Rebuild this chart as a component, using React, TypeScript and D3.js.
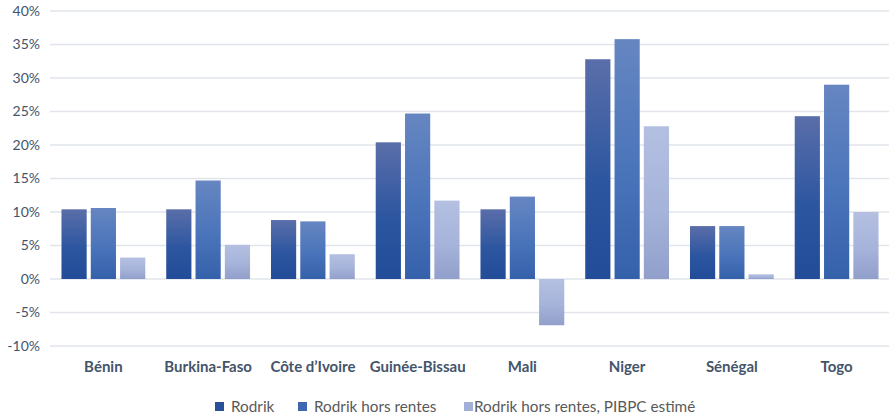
import * as d3 from 'd3';
import React from 'react';

const countries = ['Bénin', 'Burkina-Faso', 'Côte d’Ivoire', 'Guinée-Bissau', 'Mali', 'Niger', 'Sénégal', 'Togo'];
const seriesNames = ['Rodrik', 'Rodrik hors rentes', 'Rodrik hors rentes, PIBPC estimé'];
const rodrik = [10.4, 10.4, 8.8, 20.4, 10.4, 32.8, 7.9, 24.3];
const horsRentes = [10.6, 14.7, 8.6, 24.7, 12.3, 35.8, 7.9, 29.0];
const pibpcEstime = [3.2, 5.1, 3.7, 11.7, -6.9, 22.8, 0.7, 10.0];
const yTicks = [-10, -5, 0, 5, 10, 15, 20, 25, 30, 35, 40];

const gradients = [
  { top: '#5a6ea9', mid: '#2d56a0', bottom: '#224c98', legend: '#2a4f9b' },
  { top: '#6686c1', mid: '#4a74ba', bottom: '#3561ab', legend: '#3f67b0' },
  { top: '#b4c0e1', mid: '#a6b3da', bottom: '#919fcb', legend: '#a2b0d9' },
];

const W = 889;
const H = 418;

const App: React.FC = () => {
  const values = [rodrik, horsRentes, pibpcEstime];

  const y = d3.scaleLinear().domain([-10, 40]).range([346, 11]);
  const x0 = d3
    .scaleBand<string>()
    .domain(countries)
    .range([51, 889])
    .paddingInner(0.2)
    .paddingOuter(0.1);
  const x1 = d3
    .scaleBand<number>()
    .domain([0, 1, 2])
    .range([0, x0.bandwidth()])
    .paddingInner(0.14);

  const font = 'Lato, "Open Sans", sans-serif';
  const legendX = [215, 298, 464];

  return (
    <div style={{ position: 'fixed', left: 0, top: 0, width: W, height: H }}>
      <svg width={W} height={H} style={{ display: 'block', background: 'white' }}>
        <defs>
          {gradients.map((g, i) => (
            <linearGradient key={i} id={`g${i}`} x1='0' y1='0' x2='0' y2='1'>
              <stop offset='0%' stopColor={g.top} />
              <stop offset='55%' stopColor={g.mid} />
              <stop offset='100%' stopColor={g.bottom} />
            </linearGradient>
          ))}
        </defs>

        <g>
          {yTicks.map((t) => (
            <g key={t}>
              <line x1={50} x2={889} y1={y(t)} y2={y(t)} stroke='#e1e5eb' strokeWidth={1.5} />
              <text
                x={40}
                y={y(t)}
                dy='0.35em'
                textAnchor='end'
                fontFamily={font}
                fontSize={14}
                fill='#44546a'
              >
                {t}%
              </text>
            </g>
          ))}
        </g>

        <g>
          {countries.map((c, ci) => (
            <g key={c} transform={`translate(${x0(c)},0)`}>
              {values.map((vals, si) => {
                const v = vals[ci];
                const top = y(Math.max(0, v));
                const h = Math.abs(y(v) - y(0));
                return (
                  <rect
                    key={si}
                    x={x1(si)}
                    y={top}
                    width={x1.bandwidth()}
                    height={h}
                    fill={`url(#g${si})`}
                  />
                );
              })}
              <text
                x={x0.bandwidth() / 2}
                y={372}
                textAnchor='middle'
                fontFamily={font}
                fontWeight='bold'
                fontSize={15}
                fill='#44546a'
              >
                {c}
              </text>
            </g>
          ))}
        </g>

        <g>
          {seriesNames.map((s, i) => (
            <g key={s} transform={`translate(${legendX[i]},0)`}>
              <rect x={0} y={402} width={9} height={9} fill={gradients[i].legend} />
              <text
                x={i === 2 ? 10 : 16}
                y={411.5}
                fontFamily={font}
                fontSize={15.3}
                fill='#595959'
              >
                {s}
              </text>
            </g>
          ))}
        </g>
      </svg>
    </div>
  );
};

export default App;
